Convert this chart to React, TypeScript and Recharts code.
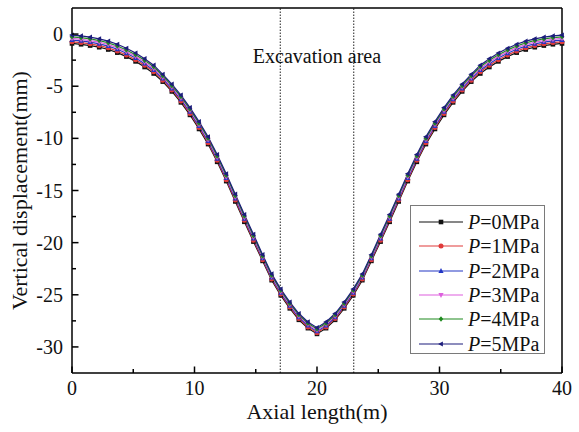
import { LineChart, Line, XAxis, YAxis, ReferenceLine, ReferenceArea, Legend } from "recharts";

const FONT = "'Times New Roman', 'Liberation Serif', serif";

// axial position along the tunnel (m)
const axialLength = [
  0, 0.74, 1.48, 2.22, 2.96, 3.7, 4.44, 5.19, 5.93, 6.67, 7.41, 8.15, 8.89, 9.63,
  10.37, 11.11, 11.85, 12.59, 13.33, 14.07, 14.81, 15.56, 16.3, 17.04, 17.78, 18.52,
  19.26, 20, 20.74, 21.48, 22.22, 22.96, 23.7, 24.44, 25.19, 25.93, 26.67, 27.41,
  28.15, 28.89, 29.63, 30.37, 31.11, 31.85, 32.59, 33.33, 34.07, 34.81, 35.56, 36.3,
  37.04, 37.78, 38.52, 39.26, 40,
];

// vertical displacement (mm) for each pressure
const p0 = [
  -0.9, -0.98, -1.1, -1.26, -1.48, -1.78, -2.16, -2.62, -3.16, -3.78, -4.56, -5.5, -6.55, -7.75,
  -9.1, -10.55, -12.25, -14.1, -16.05, -18.0, -19.9, -21.75, -23.6, -25.05, -26.3, -27.4,
  -28.2, -28.75, -28.2, -27.4, -26.3, -25.05, -23.6, -21.75, -19.9, -18.0, -16.05, -14.1,
  -12.25, -10.55, -9.1, -7.75, -6.55, -5.5, -4.56, -3.78, -3.16, -2.62, -2.16, -1.78,
  -1.48, -1.26, -1.1, -0.98, -0.9,
];
const p1 = [
  -0.74, -0.82, -0.94, -1.1, -1.32, -1.62, -2.0, -2.46, -3.0, -3.62, -4.42, -5.36, -6.41, -7.61,
  -8.96, -10.41, -12.11, -13.96, -15.91, -17.86, -19.76, -21.63, -23.48, -24.93, -26.18, -27.28,
  -28.08, -28.63, -28.08, -27.28, -26.18, -24.93, -23.48, -21.63, -19.76, -17.86, -15.91, -13.96,
  -12.11, -10.41, -8.96, -7.61, -6.41, -5.36, -4.42, -3.62, -3.0, -2.46, -2.0, -1.62,
  -1.32, -1.1, -0.94, -0.82, -0.74,
];
const p2 = [
  -0.58, -0.66, -0.78, -0.94, -1.16, -1.46, -1.84, -2.3, -2.84, -3.46, -4.28, -5.22, -6.27, -7.47,
  -8.82, -10.27, -11.97, -13.82, -15.77, -17.72, -19.62, -21.51, -23.36, -24.81, -26.06, -27.16,
  -27.96, -28.51, -27.96, -27.16, -26.06, -24.81, -23.36, -21.51, -19.62, -17.72, -15.77, -13.82,
  -11.97, -10.27, -8.82, -7.47, -6.27, -5.22, -4.28, -3.46, -2.84, -2.3, -1.84, -1.46,
  -1.16, -0.94, -0.78, -0.66, -0.58,
];
const p3 = [
  -0.42, -0.5, -0.62, -0.78, -1.0, -1.3, -1.68, -2.14, -2.68, -3.3, -4.14, -5.08, -6.13, -7.33,
  -8.68, -10.13, -11.83, -13.68, -15.63, -17.58, -19.48, -21.39, -23.24, -24.69, -25.94, -27.04,
  -27.84, -28.39, -27.84, -27.04, -25.94, -24.69, -23.24, -21.39, -19.48, -17.58, -15.63, -13.68,
  -11.83, -10.13, -8.68, -7.33, -6.13, -5.08, -4.14, -3.3, -2.68, -2.14, -1.68, -1.3,
  -1.0, -0.78, -0.62, -0.5, -0.42,
];
const p4 = [
  -0.26, -0.34, -0.46, -0.62, -0.84, -1.14, -1.52, -1.98, -2.52, -3.14, -4.0, -4.94, -5.99, -7.19,
  -8.54, -9.99, -11.69, -13.54, -15.49, -17.44, -19.34, -21.27, -23.12, -24.57, -25.82, -26.92,
  -27.72, -28.27, -27.72, -26.92, -25.82, -24.57, -23.12, -21.27, -19.34, -17.44, -15.49, -13.54,
  -11.69, -9.99, -8.54, -7.19, -5.99, -4.94, -4.0, -3.14, -2.52, -1.98, -1.52, -1.14,
  -0.84, -0.62, -0.46, -0.34, -0.26,
];
const p5 = [
  -0.1, -0.18, -0.3, -0.46, -0.68, -0.98, -1.36, -1.82, -2.36, -2.98, -3.86, -4.8, -5.85, -7.05,
  -8.4, -9.85, -11.55, -13.4, -15.35, -17.3, -19.2, -21.15, -23.0, -24.45, -25.7, -26.8,
  -27.6, -28.15, -27.6, -26.8, -25.7, -24.45, -23.0, -21.15, -19.2, -17.3, -15.35, -13.4,
  -11.55, -9.85, -8.4, -7.05, -5.85, -4.8, -3.86, -2.98, -2.36, -1.82, -1.36, -0.98,
  -0.68, -0.46, -0.3, -0.18, -0.1,
];

const xTicks = [0, 5, 10, 15, 20, 25, 30, 35, 40];
const yTicks = [-30, -27.5, -25, -22.5, -20, -17.5, -15, -12.5, -10, -7.5, -5, -2.5, 0];
const excavation = [17, 23];

type Shape = "square" | "circle" | "up" | "down" | "diamond" | "left";

const series: { key: string; label: string; values: number[]; color: string; shape: Shape }[] = [
  { key: "p0", label: "0", values: p0, color: "#111111", shape: "square" },
  { key: "p1", label: "1", values: p1, color: "#e03a3a", shape: "circle" },
  { key: "p2", label: "2", values: p2, color: "#2236c4", shape: "up" },
  { key: "p3", label: "3", values: p3, color: "#dd5fdd", shape: "down" },
  { key: "p4", label: "4", values: p4, color: "#1f8a1f", shape: "diamond" },
  { key: "p5", label: "5", values: p5, color: "#1d1d7c", shape: "left" },
];

const data = axialLength.map((x, i) => {
  const row: Record<string, number> = { x };
  series.forEach((s) => (row[s.key] = s.values[i]));
  return row;
});

function Marker({ cx, cy, shape, color }: { cx?: number; cy?: number; shape: Shape; color: string }) {
  if (cx == null || cy == null) return null;
  const s = 2.3;
  switch (shape) {
    case "square":
      return <rect x={cx - s} y={cy - s} width={2 * s} height={2 * s} fill={color} />;
    case "circle":
      return <circle cx={cx} cy={cy} r={s + 0.2} fill={color} />;
    case "up":
      return <polygon points={`${cx},${cy - s - 0.6} ${cx - s - 0.3},${cy + s - 0.4} ${cx + s + 0.3},${cy + s - 0.4}`} fill={color} />;
    case "down":
      return <polygon points={`${cx},${cy + s + 0.6} ${cx - s - 0.3},${cy - s + 0.4} ${cx + s + 0.3},${cy - s + 0.4}`} fill={color} />;
    case "diamond":
      return <polygon points={`${cx},${cy - s - 0.5} ${cx + s},${cy} ${cx},${cy + s + 0.5} ${cx - s},${cy}`} fill={color} />;
    default:
      return <polygon points={`${cx - s - 0.6},${cy} ${cx + s - 0.4},${cy - s - 0.3} ${cx + s - 0.4},${cy + s + 0.3}`} fill={color} />;
  }
}

const XTick = (props: any) => {
  const { x, y, payload } = props;
  const major = payload.value % 10 === 0;
  return (
    <g>
      <line x1={x} y1={y} x2={x} y2={y - (major ? 6.5 : 4)} stroke="#000" strokeWidth={1.5} />
      {major && (
        <text x={x} y={y + 22} textAnchor="middle" fontSize={20} fontFamily={FONT} fill="#111">
          {payload.value}
        </text>
      )}
    </g>
  );
};

const YTick = (props: any) => {
  const { x, y, payload } = props;
  const major = payload.value % 5 === 0;
  return (
    <g>
      <line x1={x} y1={y} x2={x + (major ? 6.5 : 4)} y2={y} stroke="#000" strokeWidth={1.5} />
      {major && (
        <text x={x - 9} y={y + 7} textAnchor="end" fontSize={20} fontFamily={FONT} fill="#111">
          {payload.value}
        </text>
      )}
    </g>
  );
};

const LegendBox = () => (
  <div
    style={{
      border: "1px solid #7a7a7a",
      background: "#fff",
      width: 135,
      height: 149,
      paddingTop: 4,
      boxSizing: "border-box",
    }}
  >
    {series.map((s) => (
      <div key={s.key} style={{ display: "flex", alignItems: "center", height: 24.3 }}>
        <svg width={53} height={24} style={{ display: "block" }}>
          <line x1={8} y1={12} x2={52} y2={12} stroke={s.color} strokeWidth={1.2} />
          <Marker cx={30} cy={12} shape={s.shape} color={s.color} />
        </svg>
        <span style={{ fontFamily: FONT, fontSize: 20, lineHeight: "24px", color: "#111", marginLeft: 4 }}>
          <i>P</i>={s.label}MPa
        </span>
      </div>
    ))}
  </div>
);

export default function App() {
  return (
    <div style={{ position: "absolute", left: 0, top: 0, background: "#fff" }}>
      <LineChart width={579} height={432} data={data} margin={{ top: 8, right: 17, bottom: 29, left: 12 }}>
        <XAxis
          dataKey="x"
          type="number"
          domain={[0, 40]}
          ticks={xTicks}
          interval={0}
          height={30}
          tickLine={false}
          tickSize={0}
          tickMargin={0}
          tick={<XTick />}
          axisLine={{ stroke: "#000", strokeWidth: 1.5 }}
          label={{
            content: (p: any) => (
              <text
                x={p.viewBox.x + p.viewBox.width / 2}
                y={p.viewBox.y + 46}
                textAnchor="middle"
                fontSize={22}
                fontFamily={FONT}
                fill="#111"
              >
                Axial length(m)
              </text>
            ),
          }}
        />
        <YAxis
          type="number"
          domain={[-32.5, 2.5]}
          allowDataOverflow
          ticks={yTicks}
          interval={0}
          width={60}
          tickLine={false}
          tickSize={0}
          tickMargin={0}
          tick={<YTick />}
          axisLine={{ stroke: "#000", strokeWidth: 1.5 }}
          label={{
            content: (p: any) => {
              const cx = p.viewBox.x + 15;
              const cy = p.viewBox.y + p.viewBox.height / 2;
              return (
                <text
                  x={cx}
                  y={cy}
                  transform={`rotate(-90, ${cx}, ${cy})`}
                  textAnchor="middle"
                  fontSize={22}
                  fontFamily={FONT}
                  fill="#111"
                >
                  Vertical displacement(mm)
                </text>
              );
            },
          }}
        />
        <ReferenceArea
          x1={excavation[0]}
          x2={excavation[1]}
          fill="none"
          fillOpacity={0}
          strokeWidth={0}
          label={{
            value: "Excavation area",
            position: "insideTop",
            offset: 41,
            fontSize: 20,
            fontFamily: FONT,
            fill: "#111",
          }}
        />
        {excavation.map((v) => (
          <ReferenceLine key={v} x={v} stroke="#222" strokeWidth={1} strokeDasharray="1.5 1.5" />
        ))}
        <ReferenceLine y={2.5} stroke="#000" strokeWidth={1.5} />
        <ReferenceLine x={40} stroke="#000" strokeWidth={1.5} />
        {series.map((s) => (
          <Line
            key={s.key}
            dataKey={s.key}
            type="linear"
            stroke={s.color}
            strokeWidth={1.2}
            isAnimationActive={false}
            dot={(d: any) => (
              <Marker key={`${s.key}-${d.index}`} cx={d.cx} cy={d.cy} shape={s.shape} color={s.color} />
            )}
          />
        ))}
        <Legend
          layout="vertical"
          align="center"
          verticalAlign="middle"
          wrapperStyle={{ position: "absolute", left: 410, top: 205, width: 135 }}
          content={() => <LegendBox />}
        />
      </LineChart>
    </div>
  );
}
